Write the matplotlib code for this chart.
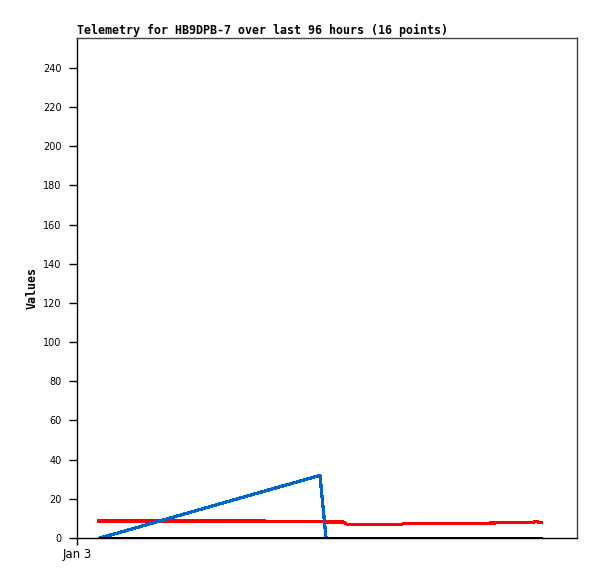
import matplotlib
matplotlib.use("Agg")
import matplotlib.pyplot as plt

# hours since Jan 3 00:00
red_t = [0.88, 7.52, 7.6, 10.64, 10.8, 13.0, 13.04, 16.48, 16.52, 18.2, 18.32, 18.44, 18.56]
red_v = [8.7, 8.7, 8.3, 8.2, 7.0, 7.0, 7.3, 7.3, 7.7, 7.8, 8.5, 8.2, 7.9]
blue_t = [0.92, 9.72, 9.96]
blue_v = [0.0, 32.0, 0.0]
black_t = [0.92, 18.56]
black_v = [0.0, 0.0]

yticks = list(range(0, 241, 20))
xtick_pos = [0]
xtick_labels = ["Jan 3"]
title = "Telemetry for HB9DPB-7 over last 96 hours (16 points)"

W, H = 597, 579
fig = plt.figure(figsize=(W / 100, H / 100), dpi=100)
ax = fig.add_axes([77 / W, (H - 538) / H, 500 / W, 500 / H])

ax.plot(blue_t, blue_v, color="#0066cc", lw=1.6, antialiased=False, zorder=3)
ax.plot(red_t, red_v, color="#ff0000", lw=1.6, antialiased=False, zorder=2)
ax.plot(black_t, black_v, color="#000000", lw=2.0, antialiased=False, zorder=4)

ax.set_xlim(0, 20)
ax.set_ylim(0, 255.3)
ax.set_yticks(yticks)
ax.set_yticklabels([str(v) for v in yticks], fontsize=7, family="DejaVu Sans")
ax.set_xticks(xtick_pos)
ax.set_xticklabels(xtick_labels, fontsize=8.5, family="DejaVu Sans")
ax.tick_params(axis="y", direction="out", length=6, width=1, color="black", pad=5)
ax.tick_params(axis="x", direction="out", length=5, width=1, color="black", pad=2)

for side in ["top", "right"]:
    ax.spines[side].set_color("#444444")
    ax.spines[side].set_linewidth(1)
ax.spines["left"].set_color("black")
ax.spines["bottom"].set_color("black")
ax.spines["left"].set_linewidth(1)
ax.spines["bottom"].set_linewidth(1)

ax.set_ylabel("Values", fontsize=8.4, family="DejaVu Sans Mono", fontweight="bold", labelpad=3)
ax.set_title(title, loc="left", fontsize=8.4, family="DejaVu Sans Mono", fontweight="bold", pad=3)

fig.savefig("out.png", dpi=100)
